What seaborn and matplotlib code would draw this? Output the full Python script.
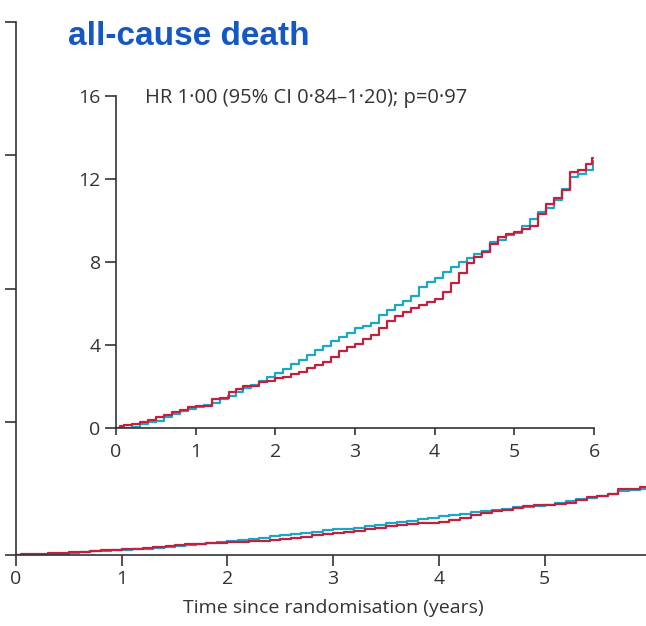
import numpy as np
import pandas as pd
import matplotlib
matplotlib.use("Agg")
import matplotlib.pyplot as plt
import seaborn as sns

# Cumulative incidence of all-cause death (%), by years since randomisation
time_a = [0.0, 0.1, 0.2, 0.3, 0.4, 0.5, 0.6, 0.7, 0.8, 0.9,
          1.0, 1.1, 1.2, 1.3, 1.4, 1.5, 1.6, 1.7, 1.8, 1.9,
          2.0, 2.1, 2.2, 2.3, 2.4, 2.5, 2.6, 2.7, 2.8, 2.9,
          3.0, 3.1, 3.2, 3.3, 3.4, 3.5, 3.6, 3.7, 3.8, 3.9,
          4.0, 4.1, 4.2, 4.3, 4.4, 4.5, 4.6, 4.7, 4.8, 4.9,
          5.0, 5.1, 5.2, 5.3, 5.4, 5.5, 5.6, 5.7, 5.8, 5.9, 5.99]
death_a = [0.0, 0.0, 0.06, 0.18, 0.27, 0.36, 0.52, 0.68, 0.83, 0.93,
           1.0, 1.1, 1.2, 1.38, 1.55, 1.72, 1.95, 2.08, 2.25, 2.45,
           2.65, 2.85, 3.08, 3.28, 3.52, 3.75, 3.97, 4.18, 4.38, 4.6,
           4.8, 4.92, 5.08, 5.45, 5.68, 5.95, 6.12, 6.35, 6.8, 7.03,
           7.25, 7.5, 7.75, 7.98, 8.18, 8.38, 8.55, 8.95, 9.05, 9.28,
           9.4, 9.75, 10.05, 10.42, 10.62, 11.0, 11.5, 12.1, 12.25, 12.45, 12.85]

time_b = [0.0, 0.05, 0.1, 0.2, 0.3, 0.4, 0.5, 0.6, 0.7, 0.8, 0.9,
          1.0, 1.1, 1.2, 1.3, 1.42, 1.5, 1.6, 1.7, 1.8, 1.9,
          2.0, 2.1, 2.2, 2.3, 2.4, 2.5, 2.6, 2.7, 2.8, 2.9,
          3.0, 3.1, 3.2, 3.3, 3.4, 3.5, 3.6, 3.7, 3.8, 3.9,
          4.0, 4.1, 4.2, 4.3, 4.4, 4.5, 4.6, 4.7, 4.8, 4.9,
          5.0, 5.1, 5.2, 5.3, 5.4, 5.5, 5.6, 5.7, 5.8, 5.9, 5.97, 5.99]
death_b = [0.0, 0.1, 0.16, 0.2, 0.3, 0.38, 0.52, 0.65, 0.78, 0.88, 1.0,
           1.04, 1.08, 1.4, 1.45, 1.75, 1.9, 2.01, 2.01, 2.2, 2.25,
           2.4, 2.48, 2.58, 2.7, 2.88, 3.05, 3.2, 3.4, 3.7, 3.92,
           4.05, 4.28, 4.5, 4.8, 5.15, 5.4, 5.6, 5.8, 5.95, 6.05,
           6.2, 6.55, 7.0, 7.45, 7.95, 8.25, 8.5, 8.85, 9.2, 9.35,
           9.45, 9.6, 9.75, 10.3, 10.8, 11.1, 11.45, 12.35, 12.45, 12.72, 13.03, 13.03]

groups = ["Group 1", "Group 2"]
colours = {"Group 1": "#1ba8c6", "Group 2": "#c4203e"}

title_text = "all-cause death"
hr_text = "HR 1\u00b700 (95% CI 0\u00b784\u20131\u00b720); p=0\u00b797"
x_label = "Time since randomisation (years)"
outer_yticks = [0, 25, 50, 75, 100]
inner_yticks = [0, 4, 8, 12, 16]
x_ticks = [0, 1, 2, 3, 4, 5, 6]
outer_xticklabels = ["0", "1", "2", "3", "4", "5", ""]

df = pd.concat([
    pd.DataFrame({"time": time_a, "death": death_a, "group": groups[0]}),
    pd.DataFrame({"time": time_b, "death": death_b, "group": groups[1]}),
], ignore_index=True)

sns.set_theme(style="ticks")
plt.rcParams["font.family"] = ["Open Sans", "DejaVu Sans"]

ink = "#333333"
W, H = 646, 626
fig = plt.figure(figsize=(W / 100, H / 100), dpi=100)


def frac(x0, y_top, x1, y_bot):
    return [x0 / W, 1 - y_bot / H, (x1 - x0) / W, (y_bot - y_top) / H]


def draw_curves(ax):
    sns.lineplot(data=df, x="time", y="death", hue="group", hue_order=groups,
                 palette=colours, estimator=None, sort=False,
                 drawstyle="steps-post", linewidth=1.6, legend=False, ax=ax)
    ax.set_xlabel("")
    ax.set_ylabel("")


def style_axes(ax, ylen, xlen, xpad, ypad):
    for side in ("top", "right"):
        ax.spines[side].set_visible(False)
    for side in ("left", "bottom"):
        ax.spines[side].set_color(ink)
        ax.spines[side].set_linewidth(1.2)
    ax.tick_params(axis="y", length=ylen, width=1.2, color=ink,
                   labelcolor=ink, labelsize=14, pad=ypad)
    ax.tick_params(axis="x", length=xlen, width=1.2, color=ink,
                   labelcolor=ink, labelsize=14, pad=xpad)
    ax.patch.set_alpha(0)


# Full-scale panel
ax_out = fig.add_axes(frac(16, 22, 16 + 6 * 105.7, 555))
draw_curves(ax_out)
ax_out.set_xlim(0, 6)
ax_out.set_ylim(0, 100)
ax_out.set_yticks(outer_yticks)
ax_out.set_yticklabels([])
ax_out.set_xticks(x_ticks)
ax_out.set_xticklabels(outer_xticklabels)
style_axes(ax_out, ylen=8, xlen=8, xpad=3, ypad=3)
ax_out.set_xlabel(x_label, fontsize=14, color=ink, labelpad=8)

# Zoomed inset panel
ax_in = fig.add_axes(frac(116, 96, 594, 428))
draw_curves(ax_in)
ax_in.set_xlim(0, 6)
ax_in.set_ylim(0, 16)
ax_in.set_yticks(inner_yticks)
ax_in.set_xticks(x_ticks)
style_axes(ax_in, ylen=8, xlen=5, xpad=6, ypad=3)
ax_in.text(145 / W, 1 - 98 / H, hr_text, transform=fig.transFigure,
           fontsize=14.5, color=ink, va="center", ha="left")

fig.text(68 / W, 1 - 45 / H, title_text, fontsize=24, fontweight="bold",
         color="#1558c4", family=["Liberation Sans", "DejaVu Sans"],
         ha="left", va="baseline")

fig.savefig("out.png", dpi=100)
